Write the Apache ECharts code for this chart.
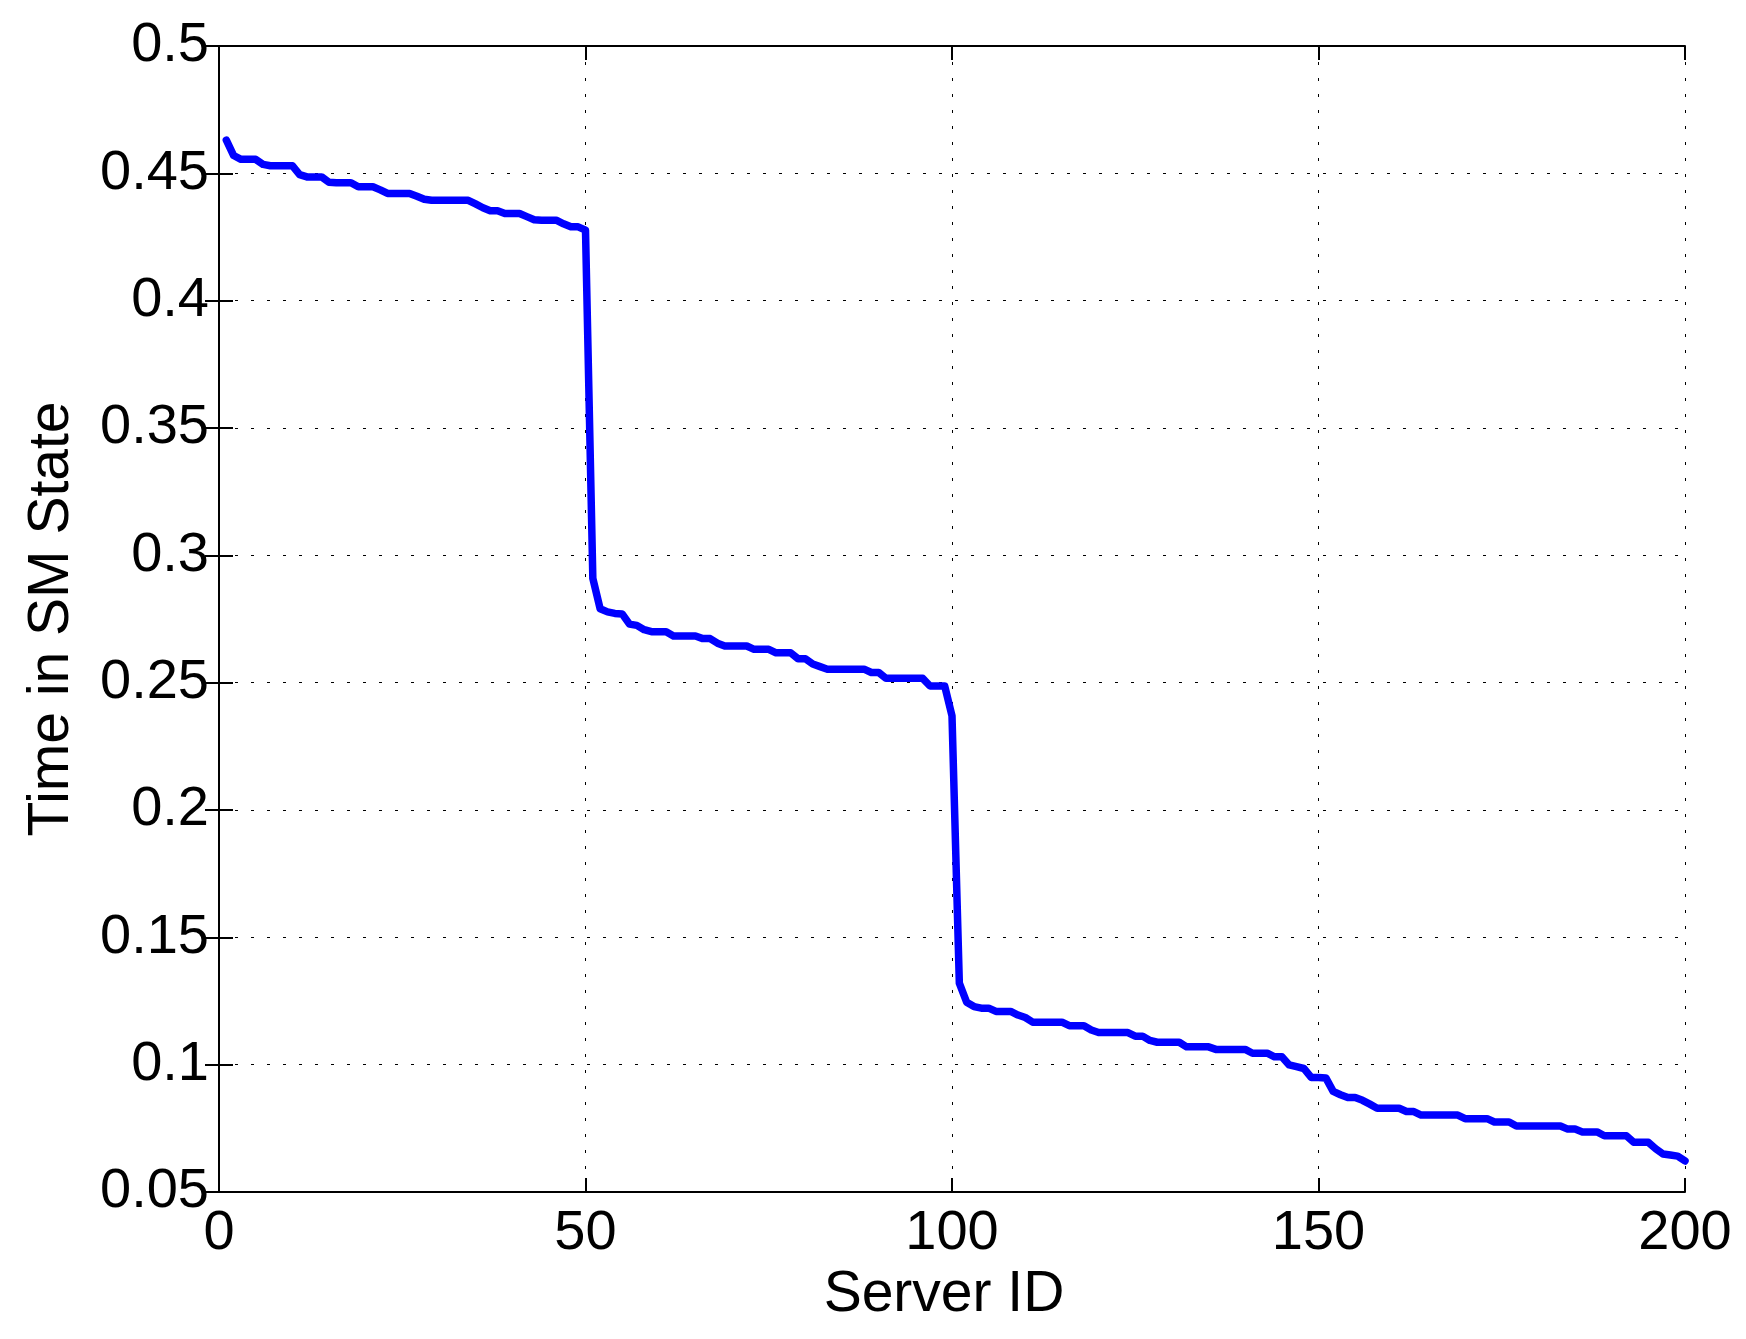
<!DOCTYPE html>
<html>
<head>
<meta charset="utf-8">
<script src="https://cdn.jsdelivr.net/npm/echarts@6/dist/echarts.min.js"></script>
<style>
html,body{margin:0;padding:0;background:#fff;}
#chart{width:1746px;height:1339px;}
</style>
</head>
<body>
<div id="chart"></div>
<script>
// Time in SM state per server (servers sorted)
const timeInSM = [
  0.463, 0.457, 0.4555, 0.4555, 0.4555, 0.4535, 0.453, 0.453, 0.453, 0.453,
  0.4495, 0.4486, 0.4486, 0.4486, 0.4465, 0.4463, 0.4463, 0.4463, 0.4447, 0.4447,
  0.4447, 0.4435, 0.4421, 0.4421, 0.4421, 0.4421, 0.441, 0.4398, 0.4394, 0.4394,
  0.4394, 0.4394, 0.4394, 0.4394, 0.438, 0.4365, 0.4353, 0.4353, 0.4342, 0.4342,
  0.4342, 0.433, 0.4318, 0.4316, 0.4316, 0.4316, 0.4302, 0.429, 0.429, 0.4277,
  0.291, 0.279, 0.2778, 0.2772, 0.277, 0.273, 0.2725, 0.2708, 0.270, 0.270,
  0.270, 0.2683, 0.2683, 0.2683, 0.2683, 0.2673, 0.2673, 0.2655, 0.2644, 0.2644,
  0.2644, 0.2644, 0.2631, 0.2631, 0.2631, 0.2617, 0.2617, 0.2617, 0.2594, 0.2594,
  0.2573, 0.2563, 0.2553, 0.2553, 0.2553, 0.2553, 0.2553, 0.2553, 0.254, 0.254,
  0.2517, 0.2517, 0.2517, 0.2517, 0.2517, 0.2517, 0.2487, 0.2487, 0.2487, 0.237,
  0.132, 0.1245, 0.1228, 0.1222, 0.1222, 0.1209, 0.1209, 0.1209, 0.1195, 0.1185,
  0.1167, 0.1167, 0.1167, 0.1167, 0.1167, 0.1153, 0.1153, 0.1153, 0.1136, 0.1126,
  0.1126, 0.1126, 0.1126, 0.1126, 0.1112, 0.1112, 0.1095, 0.1088, 0.1088, 0.1088,
  0.1088, 0.107, 0.107, 0.107, 0.107, 0.106, 0.106, 0.106, 0.106, 0.106,
  0.1045, 0.1045, 0.1045, 0.1031, 0.1031, 0.0999, 0.0992, 0.0985, 0.095, 0.095,
  0.0948, 0.0895, 0.0882, 0.0871, 0.0871, 0.086, 0.0845, 0.0829, 0.0829, 0.0829,
  0.0829, 0.0816, 0.0816, 0.0802, 0.0802, 0.0802, 0.0802, 0.0802, 0.0802, 0.0788,
  0.0788, 0.0788, 0.0788, 0.0775, 0.0775, 0.0775, 0.0759, 0.0759, 0.0759, 0.0759,
  0.0759, 0.0759, 0.0759, 0.0747, 0.0747, 0.0736, 0.0736, 0.0736, 0.0721, 0.0721,
  0.0721, 0.0721, 0.0695, 0.0695, 0.0695, 0.067, 0.0649, 0.0645, 0.0641, 0.0622
];
// Server IDs 1..N
const serverIds = timeInSM.map((_, i) => i + 1);
const xTicks = [0, 50, 100, 150, 200];
const yTicks = [0.05, 0.1, 0.15, 0.2, 0.25, 0.3, 0.35, 0.4, 0.45, 0.5];
const xName = 'Server ID';
const yName = 'Time in SM State';

const FONT = '"Liberation Sans", Arial, Helvetica, sans-serif';
const seriesData = serverIds.map((id, i) => [id, timeInSM[i]]);

const chart = echarts.init(document.getElementById('chart'), null, {renderer: 'canvas'});

const gridLine = {show: true, lineStyle: {color: '#000', width: 1, type: [3, 13]}};
const axisLine = {show: true, lineStyle: {color: '#000', width: 2}};
const tick = {show: true, inside: true, length: 14, lineStyle: {color: '#000', width: 2}};

chart.setOption({
  animation: false,
  backgroundColor: '#fff',
  grid: {left: 219, top: 46, right: 61, bottom: 147, containLabel: false},
  xAxis: [
    {
      type: 'value', position: 'bottom',
      min: xTicks[0], max: xTicks[xTicks.length - 1], interval: xTicks[1] - xTicks[0],
      name: xName, nameLocation: 'middle', nameGap: 66,
      nameTextStyle: {fontFamily: FONT, fontSize: 57, color: '#000', padding: [0, 16, 0, 0]},
      axisLine: axisLine, axisTick: tick, splitLine: gridLine,
      axisLabel: {fontFamily: FONT, fontSize: 56, color: '#000', margin: 14, showMinLabel: true, showMaxLabel: true}
    },
    {
      type: 'value', position: 'top',
      min: xTicks[0], max: xTicks[xTicks.length - 1], interval: xTicks[1] - xTicks[0],
      axisLine: axisLine, axisTick: tick, splitLine: {show: false}, axisLabel: {show: false}
    }
  ],
  yAxis: [
    {
      type: 'value', position: 'left',
      min: yTicks[0], max: yTicks[yTicks.length - 1], interval: 0.05,
      name: yName, nameLocation: 'middle', nameGap: 138, nameRotate: 90,
      nameTextStyle: {fontFamily: FONT, fontSize: 57, color: '#000'},
      axisLine: axisLine, axisTick: tick, splitLine: gridLine,
      axisLabel: {fontFamily: FONT, fontSize: 56, color: '#000', margin: 10,
        showMinLabel: true, showMaxLabel: true,
        formatter: v => String(+v.toFixed(2))}
    },
    {
      type: 'value', position: 'right',
      min: yTicks[0], max: yTicks[yTicks.length - 1], interval: 0.05,
      axisLine: axisLine, axisTick: tick, splitLine: {show: false}, axisLabel: {show: false}
    }
  ],
  series: [{
    type: 'line',
    xAxisIndex: 0, yAxisIndex: 0,
    data: seriesData,
    showSymbol: false,
    smooth: false,
    lineStyle: {color: '#0000ff', width: 7.5, join: 'round', cap: 'round'},
    itemStyle: {color: '#0000ff'},
    z: 3
  }]
});
</script>
</body>
</html>
